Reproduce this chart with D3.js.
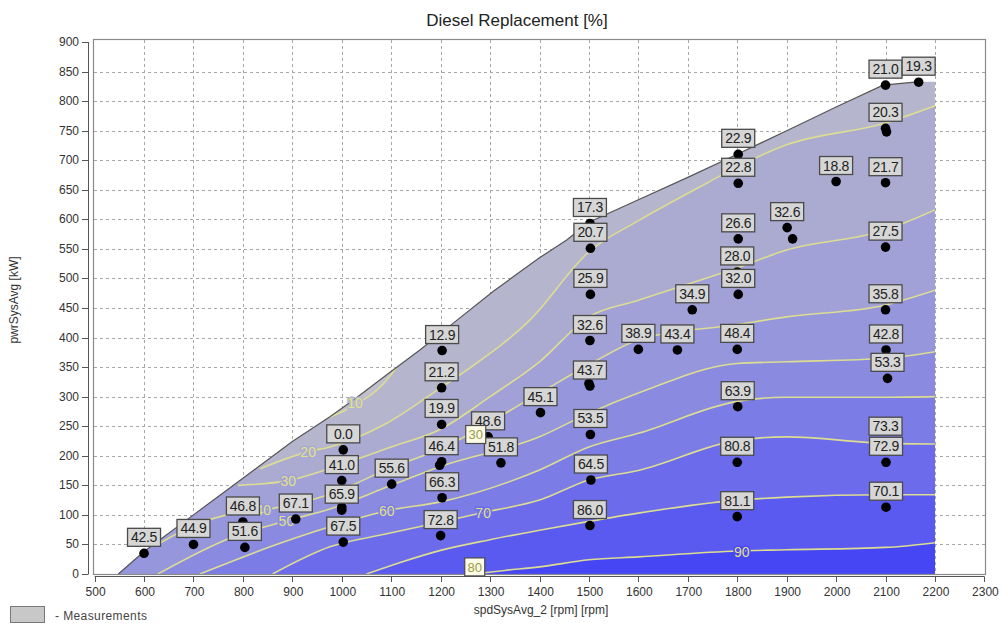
<!DOCTYPE html>
<html>
<head>
<meta charset="utf-8">
<script src="https://cdn.jsdelivr.net/npm/d3@7"></script>
<style>
  body { margin: 0; background: #fff; }
  svg { display: block; font-family: Arial, "Liberation Sans", sans-serif; }
</style>
</head>
<body>
<svg id="chart" width="1002" height="626"></svg>
<script>
// Axis ticks
const xTicks = [500, 600, 700, 800, 900, 1000, 1100, 1200, 1300, 1400, 1500, 1600, 1700, 1800, 1900, 2000, 2100, 2200, 2300];
const yTicks = [0, 50, 100, 150, 200, 250, 300, 350, 400, 450, 500, 550, 600, 650, 700, 750, 800, 850, 900];

// Measurement points: speed [rpm], power [kW], diesel replacement label [%]
const pointRpm = [600, 700, 800, 804, 907, 1003, 1000, 1000, 1003, 1101, 1203, 1202, 1202, 1202, 1203, 1200, 1296, 1322, 1402,
  1502, 1503, 1503, 1502, 1502, 1503, 1504, 1502, 1600, 1679, 1709, 1802, 1802, 1802, 1800, 1802, 1800, 1801, 1800, 1800,
  1901, 2000, 2100, 2167, 2100, 2100, 2100, 2100, 2101, 2104, 2100, 2101, 2101];
const pointKw = [35, 50, 88, 45, 93, 210, 158, 108, 54, 152, 378, 315, 253, 190, 129, 65, 232, 188, 273,
  593, 551, 473, 395, 318, 236, 159, 82, 380, 379, 447, 710, 661, 567, 511, 473, 380, 283, 189, 97,
  586, 664, 827, 832, 754, 662, 553, 447, 379, 331, 223, 189, 113];
const pointLabel = ["42.5", "44.9", "46.8", "51.6", "67.1", "0.0", "41.0", "65.9", "67.5", "55.6", "12.9", "21.2", "19.9", "46.4", "66.3", "72.8", "48.6", "51.8", "45.1",
  "17.3", "20.7", "25.9", "32.6", "43.7", "53.5", "64.5", "86.0", "38.9", "43.4", "34.9", "22.9", "22.8", "26.6", "28.0", "32.0", "48.4", "63.9", "80.8", "81.1",
  "32.6", "18.8", "21.0", "19.3", "20.3", "21.7", "27.5", "35.8", "42.8", "53.3", "73.3", "72.9", "70.1"];
// Repeated runs at nearly the same operating point (unlabelled)
const repeatRpm = [1000, 1198, 1500, 1912, 2102];
const repeatKw = [113, 184, 322, 567, 748];

// Boundary of the measured operating range
const hullRpm = [548, 600, 700, 800, 900, 976, 1023, 1091, 1158, 1225, 1306, 1400, 1455, 1500, 1600, 1700, 1800, 1900, 2000, 2095, 2170, 2200, 2200];
const hullKw = [0, 38, 100, 162, 224, 266, 294, 337, 379, 424, 478, 535, 565, 595, 633, 671, 710, 750, 790, 827, 833, 833, 0];

// Iso-lines of diesel replacement [%], as [rpm, kW] pairs
const levels = [10, 20, 30, 40, 50, 60, 70, 80, 90];
const iso10 = [[975, 265], [1027, 286], [1080, 318], [1110, 348]];
const iso20 = [[835, 178], [932, 207], [976, 215], [1091, 255], [1200, 315], [1253, 345], [1381, 430], [1500, 545], [1603, 599], [1738, 661], [1800, 689], [1900, 726], [2100, 763], [2200, 792]];
const iso30 = [[790, 150], [892, 158], [956, 173], [1100, 215], [1200, 245], [1300, 300], [1400, 359], [1500, 435], [1600, 463], [1800, 518], [1900, 548], [2100, 582], [2200, 616]];
const iso40 = [[628, 50], [700, 82], [767, 100], [841, 108], [976, 135], [1100, 180], [1200, 212], [1400, 306], [1500, 354], [1600, 396], [1800, 422], [1900, 435], [2100, 455], [2200, 480]];
const iso50 = [[628, 0], [781, 63], [888, 90], [976, 110], [1100, 150], [1200, 182], [1400, 232], [1500, 272], [1600, 306], [1800, 356], [1900, 359], [2100, 365], [2200, 376]];
const iso60 = [[713, 0], [875, 52], [976, 80], [1091, 107], [1200, 122], [1400, 176], [1500, 215], [1600, 238], [1800, 292], [1900, 299], [2100, 299], [2200, 300]];
const iso70 = [[860, 0], [976, 46], [1091, 68], [1200, 88], [1286, 104], [1400, 125], [1500, 159], [1600, 175], [1800, 226], [1900, 232], [2100, 221], [2200, 220]];
const iso80 = [[1050, 0], [1120, 20], [1200, 40], [1300, 58], [1400, 74], [1500, 89], [1600, 103], [1800, 125], [1900, 130], [2100, 134], [2200, 134]];
const iso90 = [[1265, 0], [1330, 6], [1400, 12], [1500, 24], [1600, 29], [1800, 39], [1900, 41], [2100, 45], [2200, 53]];
const isoLines = [iso10, iso20, iso30, iso40, iso50, iso60, iso70, iso80, iso90];

// Inline iso-line labels: level and [rpm, kW] anchor
const isoLabelText = ["10", "20", "30", "40", "50", "60", "70", "90"];
const isoLabelRpm = [1027, 932, 892, 841, 888, 1091, 1286, 1809];
const isoLabelKw = [289, 207, 158, 108, 90, 107, 104, 38];
// Boxed iso-line labels
const boxLabelText = ["30", "80"];
const boxLabelRpm = [1271, 1269];
const boxLabelKw = [236, 12];

// Fill per band: below 10, 10-20, 20-30, ... 80-90, above 90
const bandColors = ["#bfbfcf", "#b5b5cd", "#ababd2", "#a1a1d7", "#9696dc", "#8a8ae1", "#7c7ce6", "#6b6beb", "#5a5af0", "#4646f4"];

const svg = d3.select("#chart");
const x = d3.scaleLinear().domain([500, 2300]).range([94.6, 984.4]);
const y = d3.scaleLinear().domain([0, 900]).range([574, 42]);

// Title
svg.append("text").attr("x", 517).attr("y", 26).attr("text-anchor", "middle")
  .attr("font-size", 17).attr("fill", "#222").text("Diesel Replacement [%]");

// Grid
const grid = svg.append("g").attr("stroke", "#a8a8a8").attr("stroke-dasharray", "3,3").attr("stroke-width", 1);
grid.selectAll("line.v").data(xTicks.slice(1, -1)).join("line")
  .attr("x1", d => Math.round(x(d)) + 0.5).attr("x2", d => Math.round(x(d)) + 0.5)
  .attr("y1", 40).attr("y2", 574);
grid.selectAll("line.h").data(yTicks.slice(1, -1)).join("line")
  .attr("x1", 94).attr("x2", 985)
  .attr("y1", d => Math.round(y(d)) + 0.5).attr("y2", d => Math.round(y(d)) + 0.5);

// Filled iso-bands clipped to the measured range
const hullPts = hullRpm.map((r, i) => [x(r), y(hullKw[i])]);
svg.append("clipPath").attr("id", "hullClip").append("polygon")
  .attr("points", hullPts.map(p => p.join(",")).join(" "));
const bands = svg.append("g").attr("clip-path", "url(#hullClip)");
bands.append("polygon").attr("points", hullPts.map(p => p.join(",")).join(" ")).attr("fill", bandColors[1]);

const line = d3.line().x(d => x(d[0])).y(d => y(d[1])).curve(d3.curveMonotoneX);
isoLines.forEach((pts, i) => {
  const first = pts[0], last = pts[pts.length - 1];
  if (i === 0) {
    // region under 10 % sits between the line and the upper boundary
    bands.append("path")
      .attr("d", line(pts) + "L" + x(last[0]) + "," + y(900) + "L" + x(first[0]) + "," + y(900) + "Z")
      .attr("fill", bandColors[0]);
    return;
  }
  let d = line(pts) + "L" + x(2300) + "," + y(last[1]) + "L" + x(2300) + "," + y(-50);
  if (first[1] > 0) d += "L" + x(400) + "," + y(-50) + "L" + x(400) + "," + y(first[1]);
  else d += "L" + x(first[0]) + "," + y(-50);
  d += "Z";
  bands.append("path").attr("d", d).attr("fill", bandColors[i + 1]);
});

// Iso-lines
const isoG = svg.append("g").attr("clip-path", "url(#hullClip)");
isoLines.forEach(pts => {
  isoG.append("path").attr("d", line(pts)).attr("fill", "none")
    .attr("stroke", "#dcdc92").attr("stroke-width", 1.6);
});

// Boundary outline
svg.append("path")
  .attr("d", d3.line()(hullPts.slice(0, hullPts.length - 2)))
  .attr("fill", "none").attr("stroke", "#555").attr("stroke-width", 1.2);

// Inline iso labels
isoLabelText.forEach((t, i) => {
  const lvl = +t;
  const c = bandColors[Math.min(levels.indexOf(lvl) + 1, bandColors.length - 1)];
  svg.append("text").attr("x", x(isoLabelRpm[i])).attr("y", y(isoLabelKw[i]) + 5)
    .attr("text-anchor", "middle").attr("font-size", 14)
    .attr("fill", "#e2e28a").attr("stroke", c).attr("stroke-width", 3)
    .attr("paint-order", "stroke").text(t);
});

// Axes frame
svg.append("rect").attr("x", 93.5).attr("y", 39.5).attr("width", 892).attr("height", 535)
  .attr("fill", "none").attr("stroke", "#8a8a8a").attr("stroke-width", 1.2);

// Y axis
const yAxis = svg.append("g");
yAxis.append("line").attr("x1", 88.5).attr("x2", 88.5).attr("y1", y(900)).attr("y2", y(0)).attr("stroke", "#555");
yAxis.selectAll("line.t").data(yTicks).join("line")
  .attr("x1", 82).attr("x2", 88.5).attr("y1", d => Math.round(y(d)) + 0.5).attr("y2", d => Math.round(y(d)) + 0.5)
  .attr("stroke", "#555");
yAxis.selectAll("text").data(yTicks).join("text")
  .attr("x", 79).attr("y", d => y(d) + 4).attr("text-anchor", "end")
  .attr("font-size", 12).attr("fill", "#333").text(d => d);

// X axis
const xAxis = svg.append("g");
xAxis.append("line").attr("x1", x(500)).attr("x2", x(2300)).attr("y1", 576.5).attr("y2", 576.5).attr("stroke", "#555");
xAxis.selectAll("line.t").data(xTicks).join("line")
  .attr("x1", d => Math.round(x(d)) + 0.5).attr("x2", d => Math.round(x(d)) + 0.5).attr("y1", 576.5).attr("y2", 582)
  .attr("stroke", "#555");
xAxis.selectAll("text").data(xTicks).join("text")
  .attr("x", d => x(d) + 1).attr("y", 596).attr("text-anchor", "middle")
  .attr("font-size", 12).attr("fill", "#333").text(d => d);

// Axis titles
svg.append("text").attr("x", 541).attr("y", 614).attr("text-anchor", "middle")
  .attr("font-size", 12).attr("fill", "#333").text("spdSysAvg_2 [rpm] [rpm]");
svg.append("text").attr("transform", "translate(18,300) rotate(-90)").attr("text-anchor", "middle")
  .attr("font-size", 12).attr("fill", "#333").text("pwrSysAvg [kW]");

// Measurement dots
const dots = svg.append("g").attr("fill", "#000");
dots.selectAll("circle.m").data(pointRpm).join("circle")
  .attr("cx", (d, i) => x(d)).attr("cy", (d, i) => y(pointKw[i])).attr("r", 4.8);
dots.selectAll("circle.r").data(repeatRpm).join("circle")
  .attr("cx", (d, i) => x(d)).attr("cy", (d, i) => y(repeatKw[i])).attr("r", 4.8);

// Value boxes above each dot
const lbl = svg.append("g");
pointLabel.forEach((t, i) => {
  const cx = x(pointRpm[i]), cy = y(pointKw[i]) - 16;
  lbl.append("rect").attr("x", cx - 16.5).attr("y", cy - 9).attr("width", 33).attr("height", 18)
    .attr("fill", "#d6d6d6").attr("stroke", "#4a4a4a").attr("stroke-width", 1.3);
  lbl.append("text").attr("x", cx).attr("y", cy + 5).attr("text-anchor", "middle")
    .attr("font-size", 14).attr("fill", "#222").attr("letter-spacing", -0.3).text(t);
});

// Boxed iso labels
boxLabelText.forEach((t, i) => {
  const cx = x(boxLabelRpm[i]), cy = y(boxLabelKw[i]);
  svg.append("rect").attr("x", cx - 10).attr("y", cy - 9).attr("width", 20).attr("height", 18)
    .attr("fill", "#fbfbe6").attr("stroke", "#4a4a4a").attr("stroke-width", 1.2);
  svg.append("text").attr("x", cx).attr("y", cy + 5).attr("text-anchor", "middle")
    .attr("font-size", 13).attr("fill", "#9a9a4a").text(t);
});

// Legend
svg.append("rect").attr("x", 10.5).attr("y", 606.5).attr("width", 34).attr("height", 16)
  .attr("fill", "#c8c8c8").attr("stroke", "#777");
svg.append("text").attr("x", 55).attr("y", 620).attr("font-size", 12).attr("letter-spacing", 0.4)
  .attr("fill", "#444").text("- Measurements");
</script>
</body>
</html>
